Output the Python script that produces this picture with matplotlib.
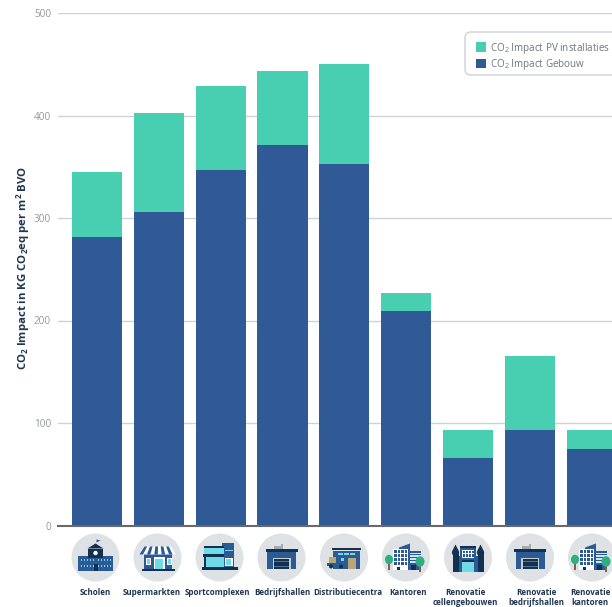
import matplotlib
matplotlib.use("Agg")
import matplotlib.pyplot as plt
from matplotlib.patches import Circle, Rectangle, Polygon, Ellipse, FancyBboxPatch

plt.rcParams['font.family'] = ['Open Sans', 'DejaVu Sans']
plt.rcParams['mathtext.fontset'] = 'custom'
plt.rcParams['mathtext.rm'] = 'Open Sans'
plt.rcParams['mathtext.bf'] = 'Open Sans:bold'
plt.rcParams['mathtext.default'] = 'regular'

categories = ["Scholen", "Supermarkten", "Sportcomplexen", "Bedrijfshallen", "Distributiecentra",
              "Kantoren", "Renovatie\ncellengebouwen", "Renovatie\nbedrijfshallen", "Renovatie\nkantoren"]
gebouw = [281, 306, 347, 371, 353, 209, 66, 93, 75]
pv = [64, 96, 82, 72, 97, 18, 27, 72, 18]
yticks = [0, 100, 200, 300, 400, 500]

W, H = 612, 607
GREEN, BLUE = '#48cfb2', '#2f5a96'
NAVY, MID, CYAN, GREY = '#12304f', '#2b5a94', '#6fdbe6', '#dfe2e5'
TXT = '#1f3550'

fig = plt.figure(figsize=(W/100, H/100), dpi=100, facecolor='white')
ax = fig.add_axes([58/W, 1-525.5/H, (W-58)/W, 512.5/H])
ax.set_xlim(-0.631, 8.33)
ax.set_ylim(0, 500)
x = list(range(len(categories)))
ax.bar(x, gebouw, width=0.81, color=BLUE, zorder=3, label=r"CO$_{2}$ Impact Gebouw")
ax.bar(x, pv, width=0.81, bottom=gebouw, color=GREEN, zorder=3, label=r"CO$_{2}$ Impact PV installaties")
ax.set_yticks(yticks)
ax.set_xticks([])
ax.tick_params(axis='y', length=0, labelsize=7.2, labelcolor='#94989d', pad=5)
ax.grid(axis='y', color='#cfd2d5', lw=1.0, zorder=0)
for s in ['top', 'right', 'left']:
    ax.spines[s].set_visible(False)
ax.spines['bottom'].set_color('#666a6e')
ax.spines['bottom'].set_linewidth(1.5)
ax.spines['bottom'].set_zorder(4)
ax.set_ylabel(r"CO$_{2}$ Impact in KG CO$_{2}$eq per m$^{2}$ BVO", fontsize=8.2, fontweight='bold',
              color=TXT, labelpad=0)
ax.yaxis.set_label_coords((32-58)/(W-58), 0.502)

# overlay in pixel coordinates for the legend box and the icons below the axis
ov = fig.add_axes([0, 0, 1, 1])
ov.set_xlim(0, W)
ov.set_ylim(H, 0)
ov.axis('off')
ov.patch.set_alpha(0)

ov.add_patch(FancyBboxPatch((469, 36), 180, 35, boxstyle="round,pad=4,rounding_size=6", fc='white',
                            ec='#d3d5d8', lw=1.1, zorder=1))
h, l = ax.get_legend_handles_labels()
leg = ov.legend(h[::-1], l[::-1], loc='upper left', bbox_to_anchor=(476, 40.5),
                bbox_transform=ov.transData,
                fontsize=7.15, frameon=False, labelcolor='#6f767d', handlelength=1.05, handleheight=1.1,
                handletextpad=0.4, labelspacing=0.15, borderaxespad=0, borderpad=0)
leg.set_zorder(6)

def R(cx, cy, x0, y0, w, h, c):
    ov.add_patch(Rectangle((cx+x0, cy+y0), w, h, fc=c, ec='none'))

def P(cx, cy, pts, c):
    ov.add_patch(Polygon([(cx+a, cy+b) for a, b in pts], fc=c, ec='none'))

def tree(cx, cy, x0, y0, r=4):
    R(cx, cy, x0-0.7, y0, 1.6, 9, '#8a5a4a')
    ov.add_patch(Ellipse((cx+x0, cy+y0-1), 2*r, 2*r+1.5, fc='#2fae7e', ec='none'))

def school(cx, cy):
    R(cx, cy, -17.5, -2, 35, 15, MID)
    R(cx, cy, -7.5, -9, 15, 9, NAVY)
    P(cx, cy, [(-8, -9), (0, -14), (8, -9)], NAVY)
    R(cx, cy, 0, -18, 0.9, 5, NAVY)
    P(cx, cy, [(1, -18), (5, -17), (1, -15)], MID)
    ov.add_patch(Circle((cx, cy-4.5), 2.2, fc='white', ec='none'))
    for yy in [1, 7]:
        for xx in [-15, -12, -9, -6, -3, 2, 5, 8, 11, 14]:
            R(cx, cy, xx, yy, 1.8, 2.6, CYAN)
    R(cx, cy, -2, 6, 4, 7, NAVY)

def shop(cx, cy):
    R(cx, cy, -14, -6, 28, 17, MID)
    R(cx, cy, -16, 11, 33, 2, NAVY)
    P(cx, cy, [(-13, -11), (14, -11), (18, -3), (-18, -3)], 'white')
    for i in range(5):
        a = -13+i*5.4
        P(cx, cy, [(a, -11), (a+2.7, -11), (-18+i*7.4+3.5, -3), (-18+i*7.4, -3)], MID)
    R(cx, cy, -4, -1, 11, 12, 'white')
    R(cx, cy, -2.5, 1, 8, 10, CYAN)
    R(cx, cy, -12, 0, 5.5, 7, 'white')
    R(cx, cy, -11, 1, 3.5, 5, CYAN)
    R(cx, cy, 9, 0, 5, 7, 'white')
    R(cx, cy, 10, 1, 3, 5, CYAN)

def sport(cx, cy):
    R(cx, cy, 2, -15, 12, 25, MID)
    R(cx, cy, -16, -12, 20, 22, CYAN)
    R(cx, cy, -16, -12, 20, 2.5, NAVY)
    R(cx, cy, -17, -4, 21, 3, NAVY)
    R(cx, cy, -16, -1, 2.5, 11, NAVY)
    R(cx, cy, 5, -8, 8, 1.4, CYAN)
    R(cx, cy, 5, 0, 8, 8, 'white')
    R(cx, cy, 6.5, 1.5, 5, 6, CYAN)
    R(cx, cy, -18, 9, 36, 3, NAVY)

def hall(cx, cy):
    R(cx, cy, -8, -12, 7, 4, '#a6aab0')
    R(cx, cy, -1, -14, 2, 6, '#a6aab0')
    R(cx, cy, -14.5, -6, 29, 17, MID)
    R(cx, cy, -16, -9, 32, 3, NAVY)
    R(cx, cy, -9, 0, 18, 11, '#c6ccd4')
    R(cx, cy, -7.5, 1.5, 15, 9.5, NAVY)
    for yy in [3.5, 6, 8.5]:
        R(cx, cy, -7.5, yy, 15, 0.5, '#55708f')

def distrib(cx, cy):
    R(cx, cy, -11, -7, 27, 18, MID)
    R(cx, cy, -12.5, -10, 29, 2.6, NAVY)
    for xx in [-6, 0, 6]:
        R(cx, cy, xx, -5, 5, 2.6, CYAN)
    R(cx, cy, 4, 0, 8, 11, '#b8a676')
    R(cx, cy, -15, -1, 7, 6, '#b8a676')
    R(cx, cy, -17, 5, 18, 3.5, MID)
    R(cx, cy, -6, -0.5, 7, 6, MID)
    R(cx, cy, -3, 0.5, 3, 3, CYAN)
    for xx in [-13, -3]:
        ov.add_patch(Circle((cx+xx, cy+9), 2, fc=NAVY, ec='none'))

def office(cx, cy):
    R(cx, cy, 2, -7, 13, 19, MID)
    R(cx, cy, 4, -5, 11, 10, '#cfe6f2')
    for yy in [-3.5, -0.5, 2.5]:
        R(cx, cy, 4, yy, 11, 0.9, MID)
    P(cx, cy, [(-7, -10), (4, -14), (4, 12), (-7, 12)], MID)
    R(cx, cy, -13, -9, 15, 17, 'white')
    for i in range(4):
        for j in range(4):
            R(cx, cy, -12+i*3.6, -8+j*4, 2.6, 3, MID)
    R(cx, cy, -13, 8, 15, 4, 'white')
    R(cx, cy, -9, 9, 3, 3, NAVY)
    R(cx, cy, 5, 7, 5, 5, NAVY)
    tree(cx, cy, -17, 3, 4)
    tree(cx, cy, 14, 5, 4.5)

def cell(cx, cy):
    R(cx, cy, -15, -2, 30, 16, MID)
    for s in [-1, 1]:
        x0 = s*12.5
        R(cx, cy, x0-3, -5, 6, 19, NAVY)
        ov.add_patch(Circle((cx+x0, cy-5), 3.6, fc=NAVY, ec='none'))
        P(cx, cy, [(x0-3, -7), (x0, -13), (x0+3, -7)], NAVY)
    R(cx, cy, -8, -11, 16, 25, MID)
    R(cx, cy, -8, -12, 16, 2, NAVY)
    R(cx, cy, -6, -8, 12, 8, 'white')
    for xx in [-5, -2, 1, 4]:
        R(cx, cy, xx, -7, 2, 2.6, MID)
        R(cx, cy, xx, -3.5, 2, 2.6, MID)
    R(cx, cy, -6, 2, 12, 2, NAVY)
    R(cx, cy, -6, 4, 12, 10, CYAN)

icons = [school, shop, sport, hall, distrib, office, cell, hall, office]
icon_x = [95.5, 157.5, 219.5, 281.5, 344, 406, 468, 530, 592]
label_x = [95, 152, 217, 282, 348, 408, 465, 536, 590]
for fn, ix, lx, name in zip(icons, icon_x, label_x, categories):
    ov.add_patch(Circle((ix, 557.5), 24, fc=GREY, ec='none'))
    fn(ix, 557.5)
    ov.text(lx, 588, name, ha='center', va='top', fontsize=5.75, fontweight='bold', color=TXT, linespacing=1.15)

fig.savefig('out.png', dpi=100, facecolor='white')
